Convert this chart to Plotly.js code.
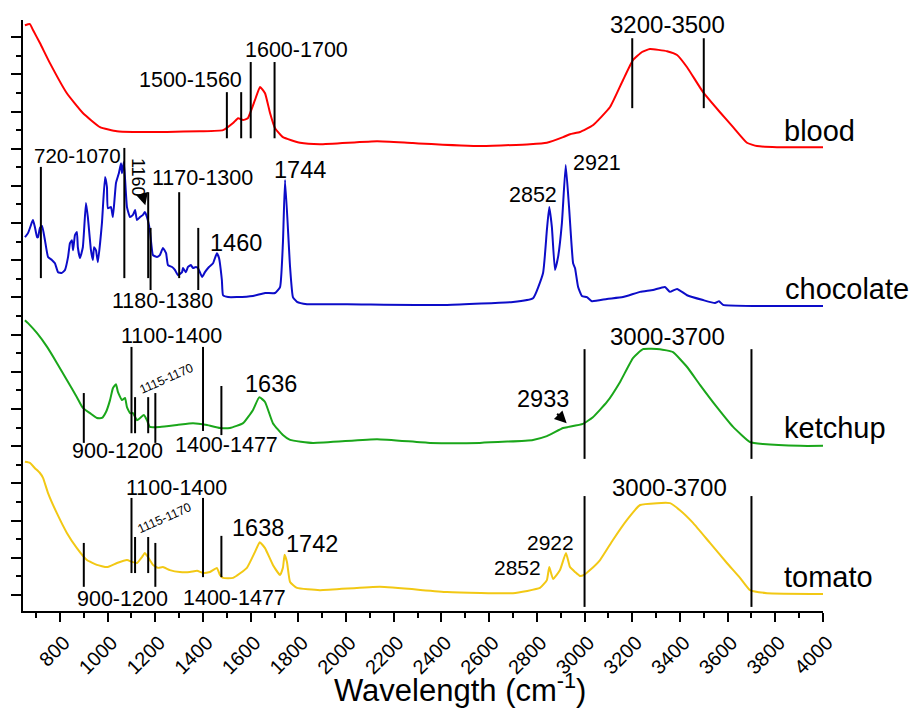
<!DOCTYPE html>
<html>
<head>
<meta charset="utf-8">
<script src="https://cdn.plot.ly/plotly-3.0.1.min.js"></script>
<style>html,body{margin:0;padding:0;background:#fff;}#chart{width:915px;height:711px;}</style>
</head>
<body>
<div id="chart"></div>
<script>
// ---- Data (wavenumber in cm-1, intensity in stacked arbitrary units) ----
const sampleNames = ['blood', 'chocolate', 'ketchup', 'tomato'];

const bloodX = [653,674,687,716,758,829,896,968,1039,1106,1249,1387,1484,1526,1547,1568,1588,1618,1639,1660,1681,1702,1735,1807,1890,2130,2280,2561,2771,2842,2910,2939,2981,3035,3107,3161,3203,3241,3274,3346,3388,3430,3497,3568,3623,3681,3723,3807,4000];
const bloodY = [15.32,15.35,15.19,14.84,14.30,13.49,12.96,12.58,12.47,12.45,12.45,12.47,12.50,12.69,12.82,12.77,12.82,13.31,13.66,13.49,12.96,12.55,12.31,12.16,12.12,12.20,12.15,12.07,12.12,12.16,12.31,12.39,12.45,12.63,13.12,13.84,14.38,14.60,14.68,14.62,14.52,14.19,13.52,12.98,12.58,12.16,12.07,12.04,12.04];

const chocX = [653,666,683,687,695,704,708,716,725,737,750,766,779,792,808,821,834,842,850,855,863,871,875,884,896,909,917,930,938,943,951,959,976,989,997,1001,1014,1022,1035,1047,1056,1060,1068,1081,1094,1106,1115,1123,1136,1148,1156,1165,1177,1190,1207,1219,1232,1245,1253,1270,1282,1295,1312,1316,1328,1337,1349,1358,1370,1379,1396,1408,1425,1442,1458,1467,1479,1484,1505,1542,1609,1660,1702,1723,1735,1744,1765,1777,1794,1836,2004,2423,2700,2784,2826,2842,2852,2863,2876,2889,2905,2921,2935,2952,2960,2973,2989,3010,3031,3094,3161,3233,3287,3337,3358,3388,3430,3497,3547,3564,3581,3723,4000];
const chocY = [9.62,9.73,10.03,10.08,9.89,9.62,9.62,9.87,9.92,9.54,9.09,9.01,8.92,8.68,8.66,8.74,9.09,9.46,9.54,9.27,9.68,9.76,9.35,9.06,9.35,10.54,10.16,9.27,9.01,9.35,9.27,8.95,10.0,11.24,10.97,10.40,10.43,10.16,11.08,11.34,11.61,11.34,11.64,10.43,10.16,10.22,10.35,10.08,10.16,10.22,10.30,10.16,9.81,9.14,9.09,9.14,9.33,9.19,8.87,8.82,8.74,8.60,8.68,8.79,8.68,8.82,8.87,8.79,8.82,8.79,8.55,8.68,8.82,8.92,9.19,9.06,8.47,8.06,8.01,8.01,8.04,8.12,8.12,8.28,9.46,11.16,8.82,8.01,7.88,7.82,7.82,7.80,7.88,7.98,8.66,9.81,10.43,9.89,8.74,9.09,10.0,11.56,10.43,8.92,8.79,8.28,8.04,8.01,7.90,7.96,8.01,8.15,8.20,8.28,8.15,8.23,8.06,7.93,7.85,7.90,7.80,7.77,7.77];

const ketX = [653,666,704,746,787,829,871,896,926,955,976,993,1010,1022,1035,1043,1060,1073,1081,1094,1106,1123,1136,1152,1165,1177,1219,1291,1358,1417,1471,1513,1568,1609,1636,1660,1693,1735,1765,1861,2130,2352,2561,2784,2842,2910,2933,2993,3035,3094,3149,3203,3245,3316,3371,3430,3484,3555,3623,3694,3748,3904,4000];
const ketY = [7.39,7.31,7.04,6.67,6.24,5.78,5.32,5.03,4.89,4.76,4.76,4.92,5.24,5.56,5.67,5.46,5.24,5.30,5.05,4.89,4.89,4.70,4.76,4.84,4.70,4.52,4.52,4.57,4.62,4.57,4.49,4.49,4.62,4.97,5.32,5.19,4.62,4.30,4.17,4.09,4.19,4.09,4.09,4.17,4.27,4.49,4.52,4.60,4.78,5.19,5.73,6.37,6.61,6.61,6.53,6.13,5.65,5.05,4.52,4.11,4.06,4.01,4.01];

const tomX = [653,674,695,716,729,750,787,829,871,913,955,997,1039,1081,1102,1123,1144,1156,1169,1190,1211,1232,1261,1303,1345,1375,1400,1429,1458,1471,1484,1526,1584,1618,1638,1660,1693,1723,1735,1742,1752,1765,1794,1890,2142,2423,2700,2813,2842,2852,2868,2897,2922,2939,2960,2981,2998,3023,3065,3119,3178,3233,3304,3358,3400,3455,3526,3597,3652,3694,3765,4000];
const tomY = [3.58,3.55,3.41,3.28,3.15,2.74,2.20,1.67,1.26,0.94,0.81,0.75,0.86,0.94,0.89,0.86,1.02,1.13,1.02,0.81,0.73,0.75,0.67,0.62,0.62,0.65,0.59,0.62,0.73,0.54,0.46,0.46,0.73,1.16,1.42,1.26,0.81,0.54,0.73,1.08,0.89,0.35,0.19,0.13,0.22,0.08,0.05,0.19,0.40,0.75,0.43,0.67,1.13,0.75,0.62,0.51,0.54,0.67,0.94,1.48,2.02,2.42,2.47,2.47,2.28,1.94,1.40,0.86,0.46,0.13,0.05,0.03];

// band marker wavenumbers
const bloodBands = [1500, 1560, 1600, 1700, 3200, 3500];
const chocBands  = [720, 1070, 1170, 1180, 1300, 1380];
const ketBands   = [900, 1100, 1115, 1170, 1200, 1400, 1477, 3000, 3700];
const tomBands   = [900, 1100, 1115, 1170, 1200, 1400, 1477, 3000, 3700];

// tick labels
const xTickVals = [800,1000,1200,1400,1600,1800,2000,2200,2400,2600,2800,3000,3200,3400,3600,3800,4000];
const xTickText = xTickVals.map(String);

// ---- Styling / layout ----
const FONT = 'Arial, "Liberation Sans", sans-serif';
const colors = ['#ff0000', '#0c0cc8', '#1aa61a', '#f2c814'];
const series = [[bloodX, bloodY], [chocX, chocY], [ketX, ketY], [tomX, tomY]];

const traces = series.map((s, i) => ({
  x: s[0], y: s[1], type: 'scatter', mode: 'lines', name: sampleNames[i],
  line: {color: colors[i], width: 2, shape: 'spline', smoothing: 0.4},
  hoverinfo: 'skip'
}));

// vertical line extents (y bottom, y top) for each band marker
const lineExtents = [
  [bloodBands, [[12.28,13.52],[12.28,13.52],[12.28,14.33],[12.28,14.33],[13.09,14.97],[13.09,14.97]]],
  [chocBands,  [[8.52,11.51],[8.52,12.02],[8.52,10.83],[8.20,9.87],[8.52,10.83],[8.20,9.87]]],
  [ketBands,   [[4.09,5.43],[4.35,6.67],[4.35,5.32],[4.35,5.32],[4.09,5.43],[4.41,6.67],[4.30,5.62],[3.66,6.61],[3.66,6.61]]],
  [tomBands,   [[0.22,1.40],[0.59,2.61],[0.59,1.56],[0.59,1.56],[0.22,1.40],[0.48,2.61],[0.48,1.59],[-0.32,2.66],[-0.32,2.66]]]
];
const shapes = [];
lineExtents.forEach(([bands, ext]) => {
  bands.forEach((b, j) => {
    shapes.push({type: 'line', xref: 'x', yref: 'y', x0: b, x1: b, y0: ext[j][0], y1: ext[j][1],
                 line: {color: '#000', width: 2}});
  });
});

function lab(text, x, y, size, extra) {
  return Object.assign({text: text, x: x, y: y, xref: 'x', yref: 'y', showarrow: false,
    xanchor: 'center', yanchor: 'middle', font: {family: FONT, size: size, color: '#000'}}, extra || {});
}
const annotations = [
  // blood
  lab('1500-1560', 1349, 13.84, 21.5),
  lab('1600-1700', 1790, 14.65, 21.5),
  lab('3200-3500', 3346, 15.35, 24),
  lab('blood', 3828, 12.47, 29, {xanchor: 'left'}),
  // chocolate
  lab('720-1070', 875, 11.83, 20.5),
  lab('1160', 1158, 10.48, 18, {textangle: 90, showarrow: true, arrowhead: 2, arrowsize: 1.2, arrowwidth: 2, arrowcolor: '#000', ax: -8, ay: -28, standoff: 0}),
  lab('1170-1300', 1396, 11.21, 21.5),
  lab('1180-1380', 1232, 7.90, 21.5),
  lab('1460', 1538, 9.46, 23.5),
  lab('1744', 1807, 11.42, 23.5),
  lab('2852', 2784, 10.75, 21.5),
  lab('2921', 3052, 11.61, 21.5),
  lab('chocolate', 3832, 8.23, 29, {xanchor: 'left'}),
  // ketchup
  lab('1100-1400', 1266, 6.96, 21.5),
  lab('1115-1170', 1245, 5.81, 12.5, {textangle: -24}),
  lab('900-1200', 1043, 3.87, 21.5),
  lab('1400-1477', 1500, 4.03, 21.5),
  lab('1636', 1685, 5.67, 23.5),
  lab('2933', 2925, 4.62, 23.5, {showarrow: true, arrowhead: 2, arrowsize: 1.2, arrowwidth: 2, arrowcolor: '#000', ax: -24, ay: -24, standoff: 0}),
  lab('3000-3700', 3346, 6.96, 24),
  lab('ketchup', 3828, 4.49, 29, {xanchor: 'left'}),
  // tomato
  lab('1100-1400', 1287, 2.88, 21.5),
  lab('1115-1170', 1240, 2.07, 12.5, {textangle: -24}),
  lab('900-1200', 1064, -0.11, 21.5),
  lab('1400-1477', 1534, -0.08, 21.5),
  lab('1638', 1630, 1.80, 23.5),
  lab('1742', 1857, 1.37, 23.5),
  lab('2852', 2717, 0.73, 21),
  lab('2922', 2859, 1.42, 21),
  lab('3000-3700', 3358, 2.88, 24),
  lab('tomato', 3828, 0.48, 29, {xanchor: 'left'}),
  // x axis title
  {text: 'Wavelength (cm<sup>-1</sup>)', xref: 'paper', yref: 'paper', x: 0.546, y: -0.168,
   xanchor: 'center', yanchor: 'bottom', showarrow: false, font: {family: FONT, size: 31, color: '#000'}}
];

const layout = {
  width: 915, height: 711,
  margin: {l: 23, r: 92, t: 20, b: 100, pad: 0},
  paper_bgcolor: '#fff', plot_bgcolor: '#fff',
  showlegend: false,
  font: {family: FONT, color: '#000'},
  xaxis: {
    range: [645, 4000], tickmode: 'array', tickvals: xTickVals, ticktext: xTickText,
    tickangle: -45, ticks: 'outside', ticklen: 9, tickwidth: 2, tickcolor: '#000',
    ticklabelstandoff: 1, ticklabelshift: 4,
    minor: {dtick: 100, tick0: 0, ticks: 'outside', ticklen: 5, tickwidth: 2, tickcolor: '#000'},
    showline: true, linewidth: 2, linecolor: '#000', showgrid: false, zeroline: false,
    tickfont: {family: FONT, size: 20, color: '#000'}
  },
  yaxis: {
    range: [-0.43, 15.46], tick0: 0, dtick: 1, showticklabels: false,
    ticks: 'outside', ticklen: 10, tickwidth: 2, tickcolor: '#000',
    minor: {dtick: 0.5, tick0: 0, ticks: 'outside', ticklen: 5, tickwidth: 2, tickcolor: '#000'},
    showline: true, linewidth: 2, linecolor: '#000', showgrid: false, zeroline: false
  },
  shapes: shapes,
  annotations: annotations
};

Plotly.newPlot('chart', traces, layout, {displayModeBar: false, staticPlot: true});
</script>
</body>
</html>
